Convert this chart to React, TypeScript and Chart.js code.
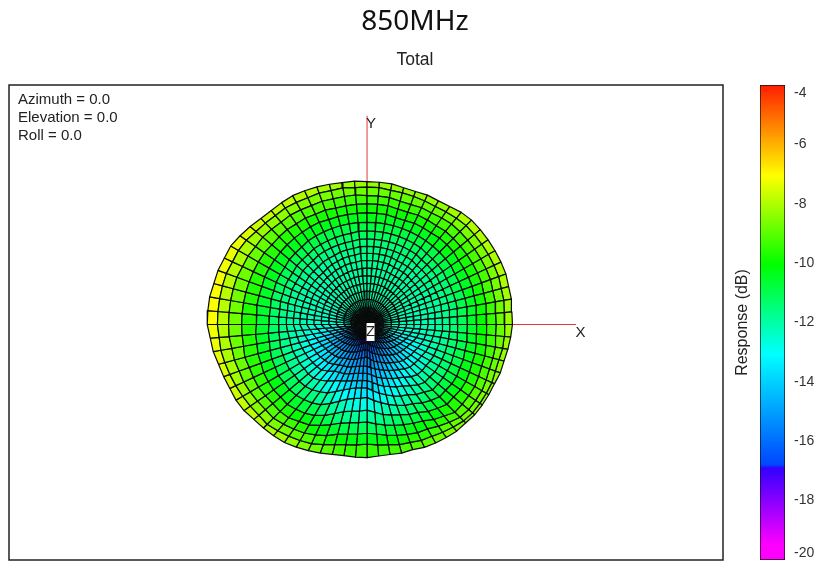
import React, { useEffect, useRef } from "react";
import { Chart, registerables } from "chart.js";

Chart.register(...registerables);

const titleText = "850MHz";
const subtitleText = "Total";
const viewLabels = ["Azimuth = 0.0", "Elevation = 0.0", "Roll = 0.0"];
const colorTicks = [-4, -6, -8, -10, -12, -14, -16, -18, -20];
const colorTitle = "Response (dB)";
const floorDb = -20;
const axisLength = 17.4;
const centerDb = -12.2;
// polar angle of each ring, outermost first
const ringThetaDeg = [90, 85, 80, 75, 70, 65, 60, 55, 50, 45, 40, 35, 30, 25, 20, 15, 10, 5];
// colour map stops: dB, r, g, b
const colorStops = [
  [-20, 255, 0, 255],
  [-19.5, 255, 0, 255],
  [-16.9, 50, 0, 255],
  [-16.8, 0, 70, 255],
  [-13.07, 0, 255, 255],
  [-10.05, 0, 255, 0],
  [-7.05, 255, 255, 0],
  [-4, 255, 30, 0],
];
// response in dB: one row per spoke (azimuth 0, 5, ... 355 deg), one value per ring
const responseDb = [
  [-7.9,-8.5,-9.1,-9.7,-10.3,-10.8,-11.3,-11.6,-11.8,-12.0,-12.1,-12.2,-12.2,-12.2,-12.2,-12.2,-12.2,-12.2],
  [-7.9,-8.5,-9.1,-9.7,-10.3,-10.8,-11.3,-11.6,-11.8,-12.0,-12.1,-12.2,-12.2,-12.2,-12.2,-12.2,-12.2,-12.2],
  [-7.8,-8.4,-9.0,-9.6,-10.2,-10.7,-11.2,-11.5,-11.8,-11.9,-12.0,-12.1,-12.2,-12.2,-12.2,-12.2,-12.2,-12.2],
  [-7.8,-8.4,-9.0,-9.6,-10.2,-10.7,-11.2,-11.5,-11.7,-11.9,-12.0,-12.1,-12.1,-12.2,-12.2,-12.2,-12.2,-12.2],
  [-7.7,-8.3,-8.9,-9.5,-10.1,-10.7,-11.2,-11.5,-11.7,-11.9,-12.0,-12.0,-12.1,-12.1,-12.2,-12.2,-12.2,-12.2],
  [-7.7,-8.3,-8.9,-9.5,-10.1,-10.7,-11.2,-11.5,-11.7,-11.8,-11.9,-12.0,-12.0,-12.1,-12.1,-12.2,-12.2,-12.2],
  [-7.7,-8.3,-8.9,-9.5,-10.1,-10.7,-11.2,-11.5,-11.7,-11.8,-11.9,-12.0,-12.0,-12.1,-12.1,-12.1,-12.2,-12.2],
  [-7.7,-8.3,-8.9,-9.5,-10.1,-10.6,-11.1,-11.4,-11.6,-11.8,-11.9,-12.0,-12.0,-12.0,-12.1,-12.1,-12.1,-12.2],
  [-7.7,-8.3,-8.9,-9.5,-10.0,-10.6,-11.1,-11.4,-11.6,-11.8,-11.9,-11.9,-12.0,-12.0,-12.0,-12.1,-12.1,-12.2],
  [-7.7,-8.3,-8.9,-9.5,-10.0,-10.6,-11.1,-11.4,-11.6,-11.8,-11.9,-11.9,-12.0,-12.0,-12.0,-12.1,-12.1,-12.2],
  [-7.8,-8.4,-8.9,-9.5,-10.0,-10.6,-11.1,-11.4,-11.6,-11.7,-11.8,-11.9,-11.9,-12.0,-12.0,-12.1,-12.1,-12.2],
  [-8.0,-8.5,-9.0,-9.6,-10.1,-10.6,-11.0,-11.3,-11.5,-11.7,-11.8,-11.9,-11.9,-12.0,-12.0,-12.0,-12.1,-12.2],
  [-8.1,-8.6,-9.1,-9.6,-10.1,-10.6,-11.0,-11.3,-11.5,-11.7,-11.8,-11.9,-11.9,-12.0,-12.0,-12.0,-12.1,-12.2],
  [-8.1,-8.6,-9.1,-9.6,-10.1,-10.6,-11.0,-11.3,-11.5,-11.7,-11.8,-11.9,-11.9,-11.9,-12.0,-12.0,-12.0,-12.1],
  [-8.2,-8.6,-9.2,-9.7,-10.2,-10.6,-11.0,-11.3,-11.5,-11.6,-11.7,-11.8,-11.9,-11.9,-11.9,-12.0,-12.0,-12.1],
  [-8.2,-8.6,-9.2,-9.7,-10.2,-10.6,-11.0,-11.3,-11.5,-11.6,-11.7,-11.8,-11.9,-11.9,-11.9,-12.0,-12.0,-12.1],
  [-8.1,-8.6,-9.1,-9.6,-10.1,-10.6,-11.0,-11.3,-11.5,-11.6,-11.7,-11.8,-11.9,-11.9,-11.9,-11.9,-12.0,-12.0],
  [-8.1,-8.5,-9.1,-9.6,-10.1,-10.6,-11.0,-11.3,-11.5,-11.6,-11.7,-11.8,-11.9,-11.9,-11.9,-11.9,-12.0,-12.0],
  [-8.1,-8.5,-9.1,-9.6,-10.1,-10.6,-11.0,-11.3,-11.5,-11.6,-11.7,-11.8,-11.9,-11.9,-11.9,-11.9,-12.0,-12.0],
  [-8.0,-8.5,-9.0,-9.6,-10.1,-10.6,-11.0,-11.3,-11.5,-11.6,-11.7,-11.8,-11.9,-11.9,-11.9,-12.0,-12.0,-12.0],
  [-8.0,-8.4,-9.0,-9.6,-10.1,-10.6,-11.1,-11.4,-11.6,-11.7,-11.8,-11.9,-11.9,-12.0,-12.0,-12.0,-12.0,-12.1],
  [-7.9,-8.4,-9.0,-9.6,-10.1,-10.6,-11.1,-11.4,-11.6,-11.7,-11.8,-11.9,-11.9,-12.0,-12.0,-12.0,-12.0,-12.1],
  [-7.8,-8.3,-8.9,-9.5,-10.1,-10.6,-11.1,-11.4,-11.6,-11.7,-11.8,-11.9,-12.0,-12.0,-12.0,-12.0,-12.1,-12.1],
  [-7.7,-8.3,-8.9,-9.5,-10.0,-10.6,-11.1,-11.4,-11.7,-11.8,-11.9,-12.0,-12.0,-12.0,-12.0,-12.1,-12.1,-12.1],
  [-7.6,-8.2,-8.8,-9.4,-10.0,-10.6,-11.1,-11.4,-11.7,-11.8,-11.9,-12.0,-12.0,-12.0,-12.0,-12.1,-12.1,-12.1],
  [-7.6,-8.1,-8.7,-9.4,-10.0,-10.6,-11.1,-11.4,-11.7,-11.9,-12.0,-12.0,-12.0,-12.1,-12.1,-12.1,-12.1,-12.1],
  [-7.6,-8.1,-8.7,-9.3,-10.0,-10.7,-11.2,-11.5,-11.8,-12.0,-12.0,-12.1,-12.1,-12.1,-12.1,-12.1,-12.2,-12.2],
  [-7.5,-8.0,-8.6,-9.3,-10.0,-10.7,-11.2,-11.5,-11.8,-12.0,-12.1,-12.1,-12.1,-12.1,-12.1,-12.2,-12.2,-12.2],
  [-7.3,-7.9,-8.5,-9.3,-10.0,-10.7,-11.2,-11.5,-11.8,-12.0,-12.1,-12.1,-12.1,-12.1,-12.1,-12.2,-12.2,-12.2],
  [-7.1,-7.7,-8.5,-9.2,-10.0,-10.8,-11.3,-11.6,-11.9,-12.0,-12.1,-12.2,-12.2,-12.2,-12.2,-12.2,-12.2,-12.2],
  [-6.9,-7.6,-8.4,-9.2,-10.0,-10.8,-11.3,-11.6,-11.9,-12.0,-12.1,-12.2,-12.2,-12.2,-12.2,-12.3,-12.3,-12.2],
  [-6.9,-7.6,-8.4,-9.2,-10.0,-10.8,-11.3,-11.6,-11.9,-12.1,-12.1,-12.2,-12.2,-12.3,-12.3,-12.3,-12.3,-12.2],
  [-6.8,-7.5,-8.3,-9.2,-10.1,-10.9,-11.4,-11.7,-11.9,-12.1,-12.2,-12.2,-12.3,-12.3,-12.3,-12.4,-12.3,-12.2],
  [-6.8,-7.5,-8.3,-9.2,-10.1,-10.9,-11.4,-11.7,-11.9,-12.1,-12.2,-12.3,-12.3,-12.4,-12.4,-12.4,-12.3,-12.2],
  [-6.7,-7.5,-8.3,-9.2,-10.1,-11.0,-11.5,-11.8,-12.0,-12.1,-12.2,-12.3,-12.3,-12.4,-12.5,-12.5,-12.4,-12.3],
  [-6.7,-7.5,-8.3,-9.2,-10.2,-11.0,-11.5,-11.8,-12.0,-12.1,-12.2,-12.3,-12.4,-12.5,-12.5,-12.6,-12.4,-12.3],
  [-6.7,-7.5,-8.3,-9.2,-10.2,-11.0,-11.5,-11.8,-12.0,-12.1,-12.2,-12.3,-12.4,-12.5,-12.6,-12.6,-12.5,-12.3],
  [-6.9,-7.6,-8.3,-9.2,-10.1,-10.9,-11.5,-11.9,-12.2,-12.4,-12.6,-12.8,-13.0,-13.1,-13.2,-13.2,-12.9,-12.5],
  [-7.0,-7.6,-8.4,-9.2,-10.1,-10.9,-11.5,-12.0,-12.3,-12.6,-12.9,-13.2,-13.5,-13.7,-13.8,-13.7,-13.3,-12.7],
  [-7.2,-7.7,-8.4,-9.1,-10.0,-10.8,-11.4,-12.0,-12.4,-12.8,-13.2,-13.6,-14.0,-14.2,-14.3,-14.2,-13.7,-12.9],
  [-7.3,-7.8,-8.5,-9.2,-10.0,-10.7,-11.4,-12.0,-12.5,-12.9,-13.4,-13.9,-14.3,-14.6,-14.8,-14.6,-14.0,-13.1],
  [-7.4,-7.9,-8.5,-9.2,-9.9,-10.7,-11.4,-12.1,-12.6,-13.1,-13.6,-14.1,-14.6,-14.9,-15.2,-15.0,-14.4,-13.2],
  [-7.4,-8.0,-8.6,-9.2,-9.9,-10.6,-11.4,-12.1,-12.7,-13.2,-13.8,-14.3,-14.8,-15.2,-15.5,-15.4,-14.7,-13.3],
  [-7.5,-8.1,-8.7,-9.3,-9.9,-10.7,-11.5,-12.2,-12.8,-13.3,-13.9,-14.5,-15.0,-15.5,-15.9,-15.8,-14.9,-13.4],
  [-7.7,-8.2,-8.8,-9.4,-10.0,-10.7,-11.5,-12.2,-12.9,-13.5,-14.1,-14.7,-15.2,-15.8,-16.3,-16.1,-15.1,-13.4],
  [-7.8,-8.2,-8.8,-9.4,-10.0,-10.8,-11.6,-12.3,-13.0,-13.6,-14.2,-14.8,-15.4,-16.0,-16.6,-16.4,-15.2,-13.5],
  [-7.9,-8.4,-9.0,-9.5,-10.2,-11.0,-11.8,-12.6,-13.4,-13.9,-14.4,-15.0,-15.6,-16.2,-16.8,-16.6,-15.4,-13.6],
  [-8.0,-8.6,-9.2,-9.8,-10.4,-11.2,-12.1,-13.0,-13.8,-14.2,-14.7,-15.2,-15.8,-16.4,-17.0,-16.8,-15.5,-13.7],
  [-8.2,-8.8,-9.4,-10.0,-10.7,-11.5,-12.4,-13.4,-14.0,-14.4,-14.9,-15.4,-16.0,-16.6,-17.2,-17.0,-15.7,-13.8],
  [-8.4,-9.0,-9.7,-10.4,-11.1,-12.0,-12.9,-13.7,-14.1,-14.5,-15.0,-15.6,-16.2,-16.8,-17.4,-17.2,-15.8,-13.8],
  [-8.6,-9.3,-10.0,-10.8,-11.6,-12.5,-13.3,-13.9,-14.3,-14.7,-15.2,-15.8,-16.5,-17.1,-17.6,-17.4,-16.0,-13.9],
  [-8.8,-9.6,-10.4,-11.2,-12.0,-12.9,-13.6,-14.1,-14.5,-14.9,-15.4,-16.0,-16.7,-17.3,-17.8,-17.5,-16.1,-14.0],
  [-8.9,-9.8,-10.6,-11.4,-12.2,-13.1,-13.8,-14.2,-14.6,-15.0,-15.6,-16.2,-16.9,-17.4,-17.8,-17.5,-16.1,-14.0],
  [-8.9,-9.9,-10.7,-11.5,-12.3,-13.2,-13.9,-14.3,-14.7,-15.1,-15.7,-16.3,-17.0,-17.5,-17.8,-17.5,-16.0,-14.0],
  [-8.9,-10.0,-10.8,-11.6,-12.4,-13.3,-13.9,-14.3,-14.7,-15.1,-15.8,-16.4,-17.0,-17.5,-17.7,-17.4,-16.0,-14.0],
  [-9.0,-9.9,-10.7,-11.4,-12.2,-13.0,-13.6,-14.1,-14.5,-14.9,-15.5,-16.1,-16.8,-17.3,-17.6,-17.3,-15.9,-13.9],
  [-9.0,-9.8,-10.5,-11.2,-11.9,-12.7,-13.3,-13.8,-14.2,-14.7,-15.2,-15.8,-16.5,-17.1,-17.5,-17.2,-15.8,-13.8],
  [-8.9,-9.6,-10.3,-11.0,-11.7,-12.4,-13.0,-13.5,-14.0,-14.5,-15.0,-15.6,-16.3,-17.0,-17.3,-17.0,-15.6,-13.7],
  [-8.9,-9.5,-10.1,-10.8,-11.5,-12.1,-12.7,-13.3,-13.8,-14.3,-14.8,-15.4,-16.0,-16.7,-17.1,-16.8,-15.4,-13.6],
  [-8.7,-9.3,-9.9,-10.6,-11.2,-11.8,-12.4,-13.0,-13.5,-14.0,-14.5,-15.1,-15.7,-16.4,-16.8,-16.5,-15.2,-13.5],
  [-8.6,-9.2,-9.8,-10.4,-11.0,-11.6,-12.2,-12.8,-13.3,-13.8,-14.3,-14.9,-15.5,-16.2,-16.6,-16.3,-15.0,-13.4],
  [-8.5,-9.0,-9.5,-10.0,-10.6,-11.2,-11.8,-12.4,-13.0,-13.5,-14.0,-14.6,-15.2,-15.8,-16.2,-15.9,-14.7,-13.3],
  [-8.4,-8.8,-9.2,-9.7,-10.3,-10.9,-11.5,-12.0,-12.6,-13.2,-13.7,-14.3,-14.8,-15.4,-15.7,-15.4,-14.3,-13.1],
  [-8.4,-8.6,-8.9,-9.3,-10.0,-10.6,-11.1,-11.7,-12.3,-12.9,-13.4,-14.0,-14.5,-15.0,-15.3,-15.0,-14.0,-13.0],
  [-8.3,-8.5,-8.8,-9.3,-10.0,-10.6,-11.1,-11.7,-12.2,-12.8,-13.3,-13.8,-14.2,-14.7,-14.9,-14.6,-13.9,-12.9],
  [-8.3,-8.5,-8.8,-9.3,-9.9,-10.5,-11.1,-11.6,-12.2,-12.7,-13.1,-13.6,-14.0,-14.3,-14.4,-14.2,-13.6,-12.8],
  [-8.3,-8.5,-8.8,-9.3,-9.9,-10.5,-11.1,-11.6,-12.1,-12.6,-13.0,-13.4,-13.7,-13.9,-14.0,-13.8,-13.3,-12.7],
  [-8.3,-8.5,-8.9,-9.4,-10.0,-10.6,-11.1,-11.6,-12.0,-12.4,-12.8,-13.2,-13.4,-13.6,-13.6,-13.4,-13.1,-12.6],
  [-8.2,-8.6,-9.0,-9.5,-10.1,-10.6,-11.2,-11.6,-12.0,-12.3,-12.6,-12.9,-13.1,-13.2,-13.2,-13.1,-12.8,-12.5],
  [-8.2,-8.6,-9.0,-9.5,-10.1,-10.7,-11.2,-11.6,-11.9,-12.2,-12.4,-12.6,-12.8,-12.9,-12.9,-12.8,-12.6,-12.4],
  [-8.1,-8.5,-9.0,-9.6,-10.2,-10.7,-11.2,-11.6,-11.9,-12.1,-12.3,-12.4,-12.5,-12.6,-12.6,-12.5,-12.4,-12.3],
  [-8.0,-8.5,-9.1,-9.7,-10.3,-10.8,-11.3,-11.6,-11.8,-12.0,-12.2,-12.3,-12.3,-12.4,-12.4,-12.3,-12.3,-12.2],
];

const spokeCount = responseDb.length;

function colorOf(db: number): string {
  const v = Math.max(-20, Math.min(-4, db));
  for (let i = 1; i < colorStops.length; i++) {
    const a = colorStops[i - 1];
    const b = colorStops[i];
    if (v <= b[0]) {
      const t = (v - a[0]) / (b[0] - a[0]);
      const c = [1, 2, 3].map((n) => Math.round(a[n] + (b[n] - a[n]) * t));
      return `rgb(${c[0]},${c[1]},${c[2]})`;
    }
  }
  return "rgb(255,30,0)";
}

// a value on the spherical surface: distance from the origin is the level above the floor
function surfacePoint(spoke: number, ring: number) {
  const k = ((spoke % spokeCount) + spokeCount) % spokeCount;
  const db = ring < ringThetaDeg.length ? responseDb[k][ring] : centerDb;
  const theta = ring < ringThetaDeg.length ? (ringThetaDeg[ring] * Math.PI) / 180 : 0;
  const phi = (k * 5 * Math.PI) / 180;
  const rho = db - floorDb;
  return { x: rho * Math.sin(theta) * Math.cos(phi), y: rho * Math.sin(theta) * Math.sin(phi), db };
}

function surfaceDatasets() {
  const sets: any[] = [];
  // Chart.js paints the last dataset first, so the rings nearest the viewer come first
  for (let r = ringThetaDeg.length - 1; r >= 0; r--) {
    for (let s = 0; s < spokeCount; s++) {
      const a = surfacePoint(s, r);
      const b = surfacePoint(s + 1, r);
      const c = surfacePoint(s + 1, r + 1);
      const d = surfacePoint(s, r + 1);
      const level = (a.db + b.db + c.db + d.db) / 4;
      sets.push({
        data: [a, b, c, d, a].map((p) => ({ x: p.x, y: p.y })),
        showLine: true,
        fill: "shape",
        backgroundColor: colorOf(level),
        borderColor: "#0a0a0a",
        borderWidth: 1.2,
        pointRadius: 0,
        borderJoinStyle: "round",
      });
    }
  }
  const axisLine = (x: number, y: number) => ({
    data: [{ x: 0, y: 0 }, { x, y }],
    showLine: true,
    fill: false,
    borderColor: "#e23a3a",
    borderWidth: 1,
    pointRadius: 0,
  });
  sets.push(axisLine(axisLength, 0), axisLine(0, axisLength));
  return sets;
}

const sansFont = '"Liberation Sans", Arial, sans-serif';

const surfaceExtras = {
  id: "surfaceExtras",
  afterDraw(chart: any) {
    const { ctx, chartArea: a, scales } = chart;
    ctx.save();
    ctx.strokeStyle = "#222";
    ctx.lineWidth = 1.5;
    ctx.strokeRect(a.left, a.top, a.right - a.left, a.bottom - a.top);
    ctx.fillStyle = "#222";
    ctx.font = `15px ${sansFont}`;
    ctx.textAlign = "left";
    ctx.textBaseline = "middle";
    viewLabels.forEach((t, i) => ctx.fillText(t, a.left + 9, a.top + 14.5 + i * 18));
    const ox = scales.x.getPixelForValue(0);
    const oy = scales.y.getPixelForValue(0);
    const tx = scales.x.getPixelForValue(axisLength);
    const ty = scales.y.getPixelForValue(axisLength);
    ctx.fillStyle = "#fff";
    ctx.fillRect(ox - 0.5, oy - 1.5, 8, 18);
    ctx.fillStyle = "#222";
    ctx.font = `15px ${sansFont}`;
    ctx.textAlign = "center";
    ctx.fillText("Z", ox + 3.5, oy + 7.5);
    ctx.fillText("X", tx + 4.5, oy + 8.5);
    ctx.fillText("Y", ox + 4, ty + 8);
    ctx.restore();
  },
};

const barLabels = {
  id: "barLabels",
  afterDraw(chart: any) {
    const { ctx, chartArea: a, scales } = chart;
    ctx.save();
    ctx.fillStyle = "#333";
    ctx.font = `14px ${sansFont}`;
    ctx.textAlign = "left";
    ctx.textBaseline = "middle";
    colorTicks.forEach((v) => {
      const y = scales.y.getPixelForValue(v);
      const yy = Math.max(a.top + 8.5, Math.min(a.bottom - 7, y));
      ctx.fillText(String(v), a.right + 9, yy);
    });
    ctx.restore();
  },
};

export default function App() {
  const mainRef = useRef<HTMLCanvasElement>(null);
  const barRef = useRef<HTMLCanvasElement>(null);

  useEffect(() => {
    document.body.style.margin = "0";
    const main = new Chart(mainRef.current!, {
      type: "scatter",
      data: { datasets: surfaceDatasets() },
      plugins: [surfaceExtras],
      options: {
        animation: false,
        responsive: false,
        events: [],
        layout: { padding: { left: 9, right: 3, top: 0, bottom: 1 } },
        plugins: {
          legend: { display: false },
          tooltip: { enabled: false },
          title: {
            display: true,
            text: titleText,
            color: "#111",
            font: { family: '"Noto Sans", sans-serif', size: 28, weight: "normal" },
            padding: { top: 5, bottom: 11 },
          },
          subtitle: {
            display: true,
            text: subtitleText,
            color: "#222",
            font: { family: sansFont, size: 17.5, weight: "normal" },
            padding: { top: 0, bottom: 14.4 },
          },
        },
        scales: {
          x: { type: "linear", display: false, min: -29.8, max: 29.625 },
          y: { type: "linear", display: false, min: -19.625, max: 19.96 },
          reserve: {
            type: "linear",
            axis: "y",
            position: "right",
            display: true,
            grid: { display: false },
            border: { display: false },
            ticks: { display: false },
            afterFit: (s: any) => {
              s.width = 98;
            },
          },
        },
      } as any,
    } as any);

    const bar = new Chart(barRef.current!, {
      type: "bar",
      data: {
        labels: ["response"],
        datasets: [
          {
            data: [[-20, -4]],
            barPercentage: 1,
            categoryPercentage: 1,
            borderColor: "#111",
            borderWidth: 1,
            borderSkipped: false,
            backgroundColor: (c: any) => {
              const { chart } = c;
              const scale = chart.scales.y;
              if (!chart.chartArea || !scale) return "#0f0";
              const top = scale.getPixelForValue(-4);
              const bottom = scale.getPixelForValue(-20);
              const g = chart.ctx.createLinearGradient(0, bottom, 0, top);
              colorStops.forEach((s) =>
                g.addColorStop((s[0] + 20) / 16, `rgb(${s[1]},${s[2]},${s[3]})`),
              );
              return g;
            },
          },
        ],
      },
      plugins: [barLabels],
      options: {
        animation: false,
        responsive: false,
        events: [],
        layout: { padding: { top: 85, bottom: 1, left: 0, right: 0 } },
        plugins: { legend: { display: false }, tooltip: { enabled: false } },
        scales: {
          x: { display: false },
          y: {
            position: "right",
            min: -20,
            max: -4,
            grid: { display: false },
            border: { display: false },
            ticks: { display: false },
            afterFit: (s: any) => {
              s.width = 39;
            },
          },
          titleAxis: {
            type: "linear",
            axis: "y",
            position: "left",
            grid: { display: false },
            border: { display: false },
            ticks: { display: false },
            title: {
              display: true,
              text: colorTitle,
              color: "#222",
              font: { family: sansFont, size: 16, weight: "normal" },
              padding: { top: 8.4, bottom: 0 },
            },
            afterFit: (s: any) => {
              s.width = 35;
            },
          },
        },
      } as any,
    } as any);

    return () => {
      main.destroy();
      bar.destroy();
    };
  }, []);

  return (
    <div style={{ position: "absolute", left: 0, top: 0, width: 824, height: 561, background: "#fff" }}>
      <canvas ref={mainRef} width={824} height={561} style={{ position: "absolute", left: 0, top: 0 }} />
      <canvas ref={barRef} width={99} height={561} style={{ position: "absolute", left: 725, top: 0 }} />
    </div>
  );
}
